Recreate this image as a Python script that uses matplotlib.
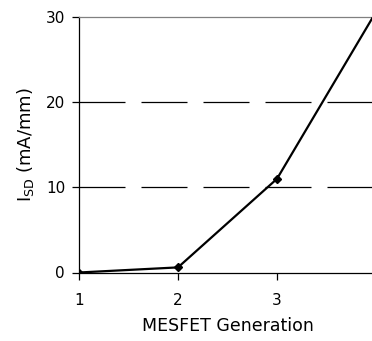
import matplotlib
matplotlib.use("Agg")
import matplotlib.pyplot as plt

generation = [1, 2, 3, 4]
isd = [0.0, 0.6, 11.0, 30.6]
yticks = [0, 10, 20, 30]

fig = plt.figure(figsize=(3.72, 3.41), dpi=100)
ax = fig.add_axes([79 / 372, 68.5 / 341, 297 / 372, 255.5 / 341])

# long-dash grid at 10 and 20
for g in [10, 20]:
    ax.axhline(g, color="black", lw=0.9, dashes=(36.8, 12.8), zorder=1)

ax.plot(generation, isd, color="black", lw=1.6, marker="D", ms=4.5, zorder=3)

ax.set_xlim(1, 4)
ax.set_ylim(0, 30)
ax.set_xticks(generation)
ax.set_yticks(yticks)

for s in ["left", "bottom"]:
    ax.spines[s].set_color("black")
    ax.spines[s].set_linewidth(0.9)
ax.spines["top"].set_color("#808080")
ax.spines["top"].set_linewidth(0.9)
ax.spines["right"].set_visible(False)

ax.tick_params(axis="both", direction="out", length=5, width=0.9, labelsize=11)
ax.tick_params(axis="x", pad=10)
ax.tick_params(axis="y", pad=5)

ax.set_xlabel("MESFET Generation", fontsize=12.5, labelpad=6)
ax.set_ylabel(r"I$_{\mathregular{SD}}$ (mA/mm)", fontsize=13, labelpad=7)

plt.savefig("out.png", dpi=100)
plt.close()
